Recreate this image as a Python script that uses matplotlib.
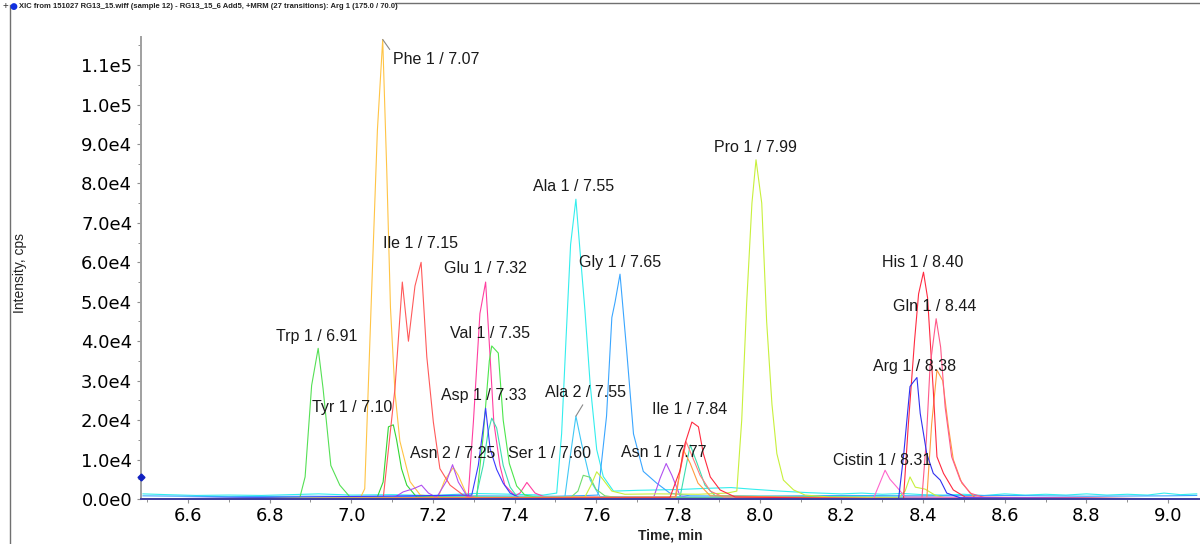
import numpy as np
import matplotlib
matplotlib.use("Agg")
import matplotlib.pyplot as plt
from matplotlib.ticker import MultipleLocator, FuncFormatter
from matplotlib.lines import Line2D

plt.rcParams['font.family'] = ['Liberation Sans', 'DejaVu Sans']

# XIC traces: time (min) / intensity (cps)
trp_t = [6.49, 6.874, 6.887, 6.903, 6.919, 6.931, 6.950, 6.972, 6.997, 7.03, 9.07]
trp_i = [0, 300, 5600, 28800, 38200, 28000, 8500, 3500, 500, 0, 0]

phe_t = [6.49, 7.021, 7.033, 7.050, 7.064, 7.077, 7.087, 7.096, 7.107, 7.119, 7.144, 7.169,
         7.213, 7.229, 7.250, 7.262, 7.283, 7.315, 9.07]
phe_i = [0, 0, 2600, 53000, 93500, 116500, 83000, 48500, 27000, 14700, 4400, 1000,
         500, 4800, 8000, 6000, 1000, 300, 0]

tyr_t = [6.49, 7.062, 7.078, 7.091, 7.103, 7.111, 7.123, 7.136, 7.160, 9.07]
tyr_i = [0, 0, 4300, 18300, 18800, 15000, 7700, 3500, 500, 0]

ile_t = [6.49, 7.078, 7.107, 7.125, 7.140, 7.156, 7.171, 7.185, 7.201, 7.217, 7.242, 7.274, 7.298, 9.07]
ile_i = [0, 0, 28000, 55000, 40000, 54000, 60000, 36000, 19500, 7700, 3500, 1000, 300, 0]

asn_t = [6.49, 7.103, 7.127, 7.152, 7.172, 7.189, 7.209, 7.234, 7.248, 7.262, 7.283, 7.305,
         7.740, 7.756, 7.771, 7.785, 7.805, 7.830, 9.07]
asn_i = [0, 200, 1800, 2600, 3500, 1500, 400, 4700, 8700, 4300, 800, 300,
         300, 5200, 9000, 6000, 800, 300, 0]

glu_t = [6.49, 7.286, 7.299, 7.315, 7.329, 7.340, 7.349, 7.364, 7.376, 7.401, 7.413, 7.430,
         7.450, 7.474, 9.07]
glu_i = [0, 300, 19500, 47000, 55000, 36000, 19500, 8500, 3500, 800, 1500, 4200,
         1500, 500, 0]

val_t = [6.49, 7.307, 7.323, 7.338, 7.344, 7.360, 7.372, 7.387, 7.405, 7.425, 7.462, 9.07]
val_i = [0, 300, 16000, 35000, 38800, 37000, 20000, 9000, 3300, 1000, 300, 0]

asp_t = [6.49, 7.295, 7.311, 7.323, 7.329, 7.340, 7.356, 7.372, 7.389, 7.413, 9.07]
asp_i = [0, 1000, 8500, 18000, 23000, 12700, 7500, 4000, 1500, 300, 0]

asp2_t = [6.49, 7.305, 7.323, 7.335, 7.344, 7.356, 7.372, 7.389, 7.408,
          7.805, 7.830, 7.847, 7.866, 7.891, 9.07]
asp2_i = [0, 300, 8500, 17000, 20500, 18000, 8500, 3000, 300,
          500, 13700, 9000, 3500, 800, 0]

ala1_t = [6.49, 6.55, 6.62, 6.70, 6.78, 6.85, 6.92, 7.00, 7.10, 7.20, 7.30, 7.40, 7.47,
          7.503, 7.515, 7.526, 7.537, 7.550, 7.560, 7.572, 7.585, 7.601, 7.617, 7.642,
          7.70, 7.80, 7.87, 7.93, 7.98, 8.05, 8.12, 8.20, 8.25, 8.30, 8.35, 8.40, 8.45,
          8.50, 8.55, 8.60, 8.65, 8.70, 8.75, 8.80, 8.85, 8.90, 8.95, 8.99, 9.03, 9.07]
ala1_i = [1300, 1100, 900, 1000, 900, 1100, 1300, 1000, 1100, 900, 1400, 1200, 1000,
          1500, 16500, 41000, 64500, 76000, 63000, 48000, 29000, 12500, 5700, 2000,
          2200, 2400, 2700, 2900, 2500, 2000, 1600, 1300, 1500, 1200, 1400, 1100, 1000,
          1200, 900, 1300, 1000, 1200, 1000, 1300, 1000, 1200, 1000, 1500, 1100, 1300]

ala2_t = [6.49, 7.523, 7.536, 7.550, 7.564, 7.585, 7.609, 9.07]
ala2_i = [0, 500, 10700, 21000, 14000, 4800, 600, 0]

gly_t = [6.49, 6.70, 6.90, 7.10, 7.30, 7.50, 7.58, 7.604, 7.625, 7.638, 7.646, 7.658,
         7.674, 7.691, 7.715, 7.748, 7.780, 7.830, 8.00, 8.20, 8.40, 8.60, 8.80, 9.00, 9.07]
gly_i = [800, 600, 700, 600, 800, 700, 900, 1000, 21000, 46000, 50000, 57000,
         38000, 16500, 7000, 4000, 1500, 800, 700, 900, 800, 900, 700, 800, 900]

ser_t = [6.49, 7.536, 7.555, 7.568, 7.585, 7.599, 7.621, 7.658, 9.07]
ser_i = [0, 300, 2000, 6000, 5500, 2500, 800, 300, 0]

pro_t = [6.49, 7.572, 7.587, 7.601, 7.616, 7.638, 7.670, 7.75, 7.85, 7.92,
         7.944, 7.956, 7.968, 7.981, 7.991, 8.005, 8.017, 8.030, 8.042, 8.058, 8.083,
         8.111, 8.172, 8.339, 8.356, 8.368, 8.381, 8.405, 8.429, 8.454, 9.07]
pro_i = [0, 500, 3500, 6900, 5000, 2000, 1200, 1300, 1200, 1500,
         2000, 20000, 49500, 75000, 86000, 75000, 45000, 24000, 11500, 4800, 2300,
         1000, 500, 300, 2000, 5600, 3000, 2500, 1000, 300, 0]

his_t = [6.49, 7.780, 7.805, 7.817, 7.834, 7.850, 7.862, 7.879, 7.903, 7.940,
         8.352, 8.364, 8.379, 8.389, 8.401, 8.411, 8.425, 8.434, 8.450, 8.474, 8.503, 9.07]
his_i = [0, 300, 7300, 14000, 19500, 18300, 11500, 5600, 2300, 500,
         0, 19000, 40000, 52000, 57500, 51000, 27500, 10700, 6500, 2300, 500, 0]

salmon_t = [6.49, 7.793, 7.807, 7.820, 7.834, 7.854, 7.879, 7.916, 9.07]
salmon_i = [0, 500, 8000, 14500, 11000, 6000, 2000, 300, 0]

orange_t = [6.49, 7.795, 7.813, 7.830, 7.849, 7.879,
            8.409, 8.421, 8.434, 8.448, 8.462, 8.474, 8.495, 8.527, 9.07]
orange_i = [0, 500, 12500, 9000, 4000, 800,
            0, 19000, 32700, 30000, 18300, 10000, 4000, 300, 0]

gln_t = [6.49, 8.397, 8.408, 8.417, 8.432, 8.443, 8.454, 8.470, 8.491, 8.515, 8.552, 9.07]
gln_i = [0, 0, 15000, 33500, 45700, 38500, 23300, 10700, 4800, 1500, 300, 0]

arg_t = [6.49, 8.340, 8.352, 8.368, 8.375, 8.385, 8.393, 8.409, 8.425, 8.442, 8.458, 8.491, 9.07]
arg_i = [0, 0, 10700, 28500, 29500, 30800, 21700, 11500, 6500, 4800, 1500, 300, 0]

cis_t = [6.49, 8.278, 8.292, 8.307, 8.319, 8.336, 8.356, 9.07]
cis_i = [0, 0, 3500, 7300, 5000, 3000, 500, 0]

# peak labels: text, peak time, peak height
label_text = ["Trp 1 / 6.91", "Phe 1 / 7.07", "Tyr 1 / 7.10", "Ile 1 / 7.15", "Asn 2 / 7.25",
              "Glu 1 / 7.32", "Asp 1 / 7.33", "Val 1 / 7.35", "Ala 1 / 7.55", "Ala 2 / 7.55",
              "Ser 1 / 7.60", "Gly 1 / 7.65", "Asn 1 / 7.77", "Ile 1 / 7.84", "Pro 1 / 7.99",
              "Cistin 1 / 8.31", "Arg 1 / 8.38", "His 1 / 8.40", "Gln 1 / 8.44"]
label_t = [6.919, 7.077, 7.103, 7.171, 7.248, 7.329, 7.329, 7.344, 7.550, 7.550,
           7.601, 7.658, 7.771, 7.834, 7.991, 8.307, 8.385, 8.401, 8.432]
label_h = [38200, 116500, 18800, 60000, 8700, 55000, 23000, 38800, 76000, 21000,
           6900, 57000, 9000, 19500, 86000, 7300, 30800, 57500, 45700]
# label offsets in pixels (layout only)
label_dx = [-1, 53, -41, -1, 0, 0, -2, -2, -2, 10, -47, 0, -2, -2, -1, -3, -2, -1, -1]
label_dy = [12, -20, 17, 19, 11, 14, 13, 12, 13, 24, 18, 12, 11, 13, 12, 10, 11, 10, 12]

traces = [
    (ala1_t, ala1_i, "#33EEEE"), (gly_t, gly_i, "#3AA6FF"), (trp_t, trp_i, "#55E055"),
    (phe_t, phe_i, "#FFC445"), (tyr_t, tyr_i, "#33D633"), (ile_t, ile_i, "#FF5A5A"),
    (asn_t, asn_i, "#B050F0"), (glu_t, glu_i, "#FF3FA0"), (val_t, val_i, "#4CE64C"),
    (asp2_t, asp2_i, "#3CDDB0"), (asp_t, asp_i, "#3B3BFF"), (ala2_t, ala2_i, "#40C8F5"),
    (ser_t, ser_i, "#70DD70"), (pro_t, pro_i, "#C8F03C"), (salmon_t, salmon_i, "#FF7A7A"),
    (orange_t, orange_i, "#FF9A40"), (his_t, his_i, "#FF2A40"), (gln_t, gln_i, "#FF5A8A"),
    (cis_t, cis_i, "#FF66CC"), (arg_t, arg_i, "#3030F0"),
]

fig = plt.figure(figsize=(12, 5.44), dpi=100)
ax = fig.add_axes([140.5 / 1200, 45 / 544, (1200 - 140.5) / 1200, (499 - 36.7) / 544])

for t, i, c in traces:
    ax.plot(t, i, color=c, lw=0.8, clip_on=False, zorder=2)

ax.set_xlim(6.484, 9.078)
ax.set_ylim(0, 117200)

for txt, t, h, dx, dy in zip(label_text, label_t, label_h, label_dx, label_dy):
    kw = {}
    if txt == "Phe 1 / 7.07":
        kw['arrowprops'] = dict(arrowstyle='-', color='#888888', lw=0.8,
                                shrinkA=0, shrinkB=0, relpos=(0.0, 0.9))
    if txt == "Ala 2 / 7.55":
        kw['arrowprops'] = dict(arrowstyle='-', color='#888888', lw=0.8,
                                shrinkA=2, shrinkB=0, relpos=(0.5, 0.0))
    ax.annotate(txt, xy=(t, h), xytext=(dx, dy), textcoords='offset pixels',
                ha='center', va='center', fontsize=11.5, color='#1a1a1a',
                zorder=5, annotation_clip=False, **kw)

# marker on the y axis
ax.plot([6.484], [5500], marker='D', ms=3.5, color='#1020C0', clip_on=False, zorder=6)


def sci_fmt(v, pos):
    if v == 0:
        return "0.0e0"
    e = int(np.floor(np.log10(abs(v)) + 1e-9))
    return "%.1fe%d" % (v / 10 ** e, e)


ax.yaxis.set_major_locator(MultipleLocator(10000))
ax.yaxis.set_minor_locator(MultipleLocator(5000))
ax.yaxis.set_major_formatter(FuncFormatter(sci_fmt))
ax.xaxis.set_major_locator(MultipleLocator(0.2))
ax.xaxis.set_minor_locator(MultipleLocator(0.1))
ax.xaxis.set_major_formatter(FuncFormatter(lambda v, p: "%.1f" % v))

ax.tick_params(which='major', length=3, width=0.8, color='#909090', pad=3)
ax.tick_params(which='minor', length=2, width=0.7, color='#909090')
for lab in ax.get_xticklabels() + ax.get_yticklabels():
    lab.set_fontfamily('DejaVu Sans')
    lab.set_fontsize(13)

for s in ['top', 'right']:
    ax.spines[s].set_visible(False)
ax.spines['left'].set_color('#A0A0A0')
ax.spines['left'].set_linewidth(1.4)
ax.spines['bottom'].set_color('#4040A0')
ax.spines['bottom'].set_linewidth(1.4)

fig.text(20 / 1200, 1 - 273 / 544, "Intensity, cps", rotation=90, ha='center', va='center',
         fontsize=10, color='#222222')
fig.text(670 / 1200, 1 - 536 / 544, "Time, min", ha='center', va='center',
         fontsize=10, fontweight='bold', color='#222222')

# window frame and title
fig.add_artist(Line2D([10 / 1200, 10 / 1200], [0, 1 - 5 / 544], color='#707070', lw=1))
fig.add_artist(Line2D([395 / 1200, 1], [1 - 3 / 544, 1 - 3 / 544], color='#707070', lw=1))
fig.text(3 / 1200, 1 - 6 / 544, "+", fontsize=7, va='center', color='#333333')
fig.text(10 / 1200, 1 - 6 / 544, "\u25CF", fontsize=6.5, va='center', color='#1030E0',
         family=['DejaVu Sans'])
fig.text(19 / 1200, 1 - 6 / 544,
         "XIC from 151027 RG13_15.wiff (sample 12) - RG13_15_6 Add5, +MRM (27 transitions): Arg 1 (175.0 / 70.0)",
         fontsize=5.5, va='center', fontweight='bold', color='#222222',
         family=['Liberation Sans Narrow', 'Liberation Sans', 'DejaVu Sans'])

fig.savefig("out.png", dpi=100)
